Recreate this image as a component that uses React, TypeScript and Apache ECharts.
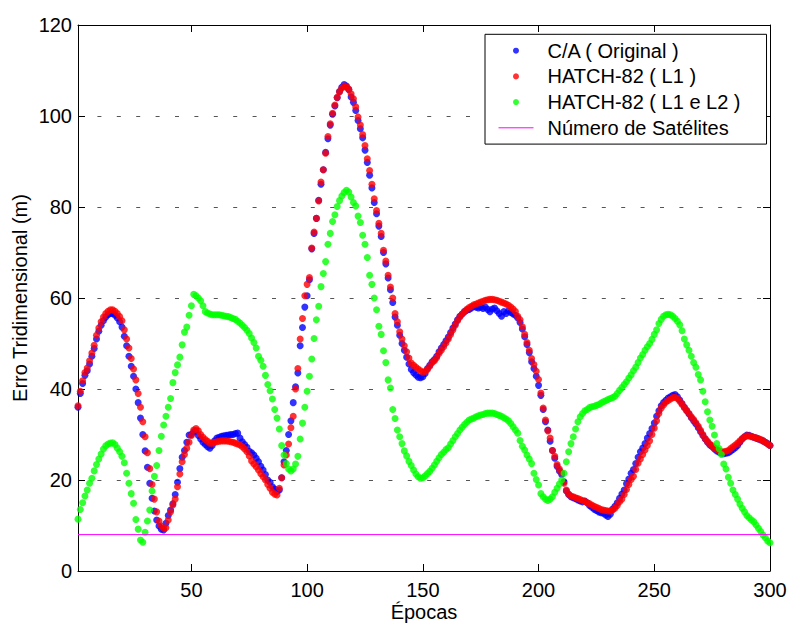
import React, { useEffect, useRef } from "react";
import * as echarts from "echarts";

const FONT = "'Liberation Sans', Arial, Helvetica, sans-serif";

const SERIES_NAMES = [
  "C/A ( Original )",
  "HATCH-82 ( L1 )",
  "HATCH-82 ( L1 e L2 )",
  "Número de Satélites",
];

const X_TICKS = [50, 100, 150, 200, 250, 300];
const Y_TICKS_INTERVAL = 20;

// C/A (Original) – one value per epoch (1..300)
const caOriginal = [
  36.0, 39.0, 41.2, 43.0, 44.0, 45.5, 47.2, 48.9, 51.0, 52.7,
  54.0, 55.0, 55.8, 56.3, 56.6, 56.6, 56.2, 55.6, 54.8, 53.6,
  51.6, 49.5, 47.2, 45.0, 42.8, 40.0, 37.0, 33.6, 30.0, 26.4,
  22.8, 19.3, 16.0, 13.2, 11.2, 9.9, 9.2, 9.0, 10.5, 12.2,
  13.4, 14.8, 16.8, 19.5, 22.5, 25.0, 26.5, 28.3, 29.9, 30.0,
  30.6, 30.8, 29.8, 29.0, 28.3, 27.8, 27.3, 27.0, 27.6, 28.6,
  29.2, 29.4, 29.6, 29.7, 29.8, 29.9, 30.0, 30.0, 30.2, 30.3,
  29.2, 28.4, 27.8, 27.2, 26.3, 26.0, 25.5, 24.8, 24.0, 23.0,
  22.2, 21.2, 20.0, 19.5, 18.5, 18.0, 17.5, 17.8, 20.5, 24.0,
  26.5, 30.0, 33.0, 37.0, 40.5, 43.5, 49.5, 53.5, 58.0, 60.5,
  64.0, 70.8, 74.2, 77.5, 81.5, 85.0, 88.2, 92.0, 95.0, 98.0,
  100.4, 102.2, 104.0, 105.4, 106.3, 106.9, 106.6, 105.8, 104.2, 103.0,
  101.2, 99.0, 97.2, 95.2, 92.5, 89.8, 87.0, 84.2, 81.0, 78.5,
  75.8, 73.5, 70.0, 67.5, 64.4, 61.8, 59.0, 55.8, 54.0, 51.8,
  50.0, 48.5, 47.0, 45.5, 44.3, 43.6, 43.1, 42.6, 42.5, 42.7,
  43.4, 44.5, 45.2, 46.0, 46.5, 47.2, 48.2, 49.0, 49.8, 50.6,
  51.4, 52.4, 53.4, 54.3, 55.2, 56.0, 56.5, 57.0, 57.3, 57.5,
  57.8, 58.2, 58.0, 57.8, 58.0, 57.7, 58.0, 57.5, 57.0, 57.6,
  57.8, 57.2, 56.6, 56.0, 57.0, 56.6, 57.2, 56.8, 56.5, 56.2,
  55.6, 54.6, 53.2, 51.5, 49.8, 48.0, 46.0, 44.5, 42.8, 40.8,
  38.6, 35.5, 32.8, 31.0, 28.5, 26.5, 24.8, 23.0, 22.0, 21.2,
  19.6, 17.6, 16.8, 16.3, 16.1, 15.9, 15.6, 15.4, 15.2, 15.4,
  15.0, 14.4, 14.0, 13.6, 13.3, 13.0, 12.8, 12.7, 12.3, 12.0,
  12.5, 13.6, 14.2, 15.0, 16.0, 16.9, 17.8, 19.2, 20.2, 21.5,
  22.3, 23.6, 25.0, 26.2, 27.0, 28.0, 29.2, 30.2, 31.3, 32.5,
  34.0, 35.2, 36.3, 37.0, 37.5, 38.0, 38.3, 38.6, 38.8, 38.3,
  37.6, 36.8, 36.0, 35.2, 34.5, 33.7, 33.0, 32.3, 31.5, 30.6,
  29.8, 29.0, 28.3, 27.7, 27.3, 26.8, 26.4, 26.1, 25.9, 25.8,
  25.9, 26.0, 26.3, 26.7, 27.1, 27.6, 28.3, 29.0, 29.5, 29.9,
  29.8, 29.6, 29.4, 29.2, 29.0, 28.8, 28.6, 28.3, 28.0, 27.6,
];

// HATCH-82 (L1)
const hatchL1 = [
  36.3, 39.5, 41.8, 43.6, 44.6, 46.2, 47.9, 49.6, 51.8, 53.4,
  54.8, 55.8, 56.6, 57.1, 57.4, 57.4, 57.1, 56.6, 55.9, 55.0,
  53.0, 51.0, 49.0, 46.7, 44.4, 42.0, 39.0, 36.0, 32.8, 29.5,
  26.0, 22.5, 19.0, 15.8, 13.0, 11.0, 9.9, 9.4, 9.5, 11.2,
  13.0, 14.5, 15.8, 18.5, 21.3, 24.0, 25.6, 27.0, 28.3, 29.8,
  31.0, 31.3, 30.8, 30.0, 29.4, 28.9, 28.5, 28.1, 28.1, 28.3,
  28.4, 28.5, 28.6, 28.6, 28.6, 28.5, 28.4, 28.3, 28.1, 27.9,
  27.7, 27.3, 26.8, 26.2, 25.3, 24.2, 23.5, 22.9, 22.2, 21.4,
  20.7, 20.0, 19.0, 18.2, 17.3, 16.9, 16.7, 18.2, 20.5, 23.3,
  25.5, 27.9, 31.5, 34.0, 40.0, 44.5, 51.0, 55.5, 60.5, 63.0,
  64.5, 71.0, 74.5, 77.5, 81.3, 85.5, 88.2, 91.8, 95.5, 98.3,
  100.6, 102.4, 104.1, 105.3, 106.1, 106.6, 106.4, 105.9, 104.9, 103.8,
  102.0, 99.8, 98.0, 95.9, 93.5, 90.6, 88.0, 85.0, 81.8, 79.2,
  76.4, 74.2, 70.5, 68.1, 65.0, 62.4, 60.0, 56.6, 54.8, 52.6,
  51.0, 49.5, 48.2, 46.8, 45.7, 45.2, 44.8, 44.4, 44.0, 43.7,
  43.9, 44.3, 45.0, 45.8, 46.2, 46.9, 47.8, 48.5, 49.3, 50.1,
  51.0, 52.0, 53.0, 54.0, 55.0, 55.8, 56.5, 57.0, 57.5, 57.9,
  58.2, 58.5, 58.7, 58.9, 59.1, 59.3, 59.5, 59.6, 59.7, 59.7,
  59.6, 59.5, 59.3, 59.1, 58.9, 58.7, 58.4, 58.0, 57.6, 57.0,
  56.0, 55.2, 53.7, 52.0, 50.2, 48.5, 46.7, 45.4, 43.9, 42.1,
  39.1, 35.8, 33.2, 30.8, 29.2, 26.5, 25.2, 23.4, 22.4, 21.6,
  19.3, 17.8, 16.9, 16.5, 16.3, 16.1, 15.9, 15.7, 15.5, 15.3,
  15.0, 14.8, 14.5, 14.2, 14.0, 13.8, 13.5, 13.4, 13.3, 13.2,
  13.2, 13.4, 13.8, 14.4, 15.2, 15.8, 16.8, 17.9, 19.0, 20.1,
  20.8, 22.3, 23.7, 24.6, 25.6, 26.6, 27.6, 28.6, 30.0, 31.4,
  33.0, 34.6, 35.8, 36.5, 37.1, 37.5, 37.8, 38.1, 38.2, 37.9,
  37.3, 36.6, 35.9, 35.3, 34.6, 33.9, 33.3, 32.6, 31.8, 30.9,
  30.0, 29.1, 28.5, 27.9, 27.5, 27.0, 26.7, 26.4, 26.2, 26.2,
  26.3, 26.5, 26.9, 27.3, 27.7, 28.1, 28.6, 29.1, 29.5, 29.7,
  29.7, 29.5, 29.4, 29.3, 29.1, 28.9, 28.6, 28.3, 27.9, 27.6,
];

// HATCH-82 (L1 e L2)
const hatchL1L2 = [
  11.4, 13.5, 15.0, 16.5, 17.8, 19.3, 20.4, 22.0, 23.4, 24.6,
  25.7, 26.8, 27.5, 27.9, 28.1, 28.2, 27.8, 27.0, 26.2, 25.2,
  23.8, 21.5, 19.3, 17.0, 14.9, 11.3, 9.2, 6.8, 6.3, 8.5,
  11.0, 13.4, 17.6, 20.8, 23.2, 26.5, 29.6, 32.1, 34.0, 36.0,
  37.9, 41.4, 43.6, 45.3, 47.0, 49.7, 52.5, 53.6, 56.2, 58.3,
  60.8, 60.5, 60.0, 59.4, 58.3, 57.0, 56.7, 56.5, 56.3, 56.3,
  56.3, 56.3, 56.2, 56.1, 56.0, 55.9, 55.7, 55.5, 55.3, 54.9,
  54.5, 54.0, 53.5, 52.9, 52.2, 51.2, 50.2, 49.0, 47.2, 46.3,
  45.0, 43.0, 41.0, 39.6, 37.8, 35.5, 33.6, 31.2, 27.6, 25.5,
  23.6, 22.4, 22.0, 22.4, 23.5, 25.2, 29.0, 32.5, 36.0, 39.5,
  42.8, 46.6, 51.1, 55.2, 58.2, 62.5, 65.4, 68.0, 71.8, 74.2,
  76.8, 78.3, 80.1, 81.4, 82.4, 83.2, 83.7, 83.3, 82.2, 81.0,
  80.2, 78.0, 76.6, 73.8, 71.8, 68.9, 65.0, 63.0, 60.0, 57.4,
  53.8, 52.0, 48.4, 45.8, 42.0, 40.2, 35.5, 33.5, 31.0, 29.5,
  28.0, 26.4, 25.3, 24.1, 23.2, 22.2, 21.3, 20.7, 20.4, 20.5,
  20.9, 21.4, 21.9, 22.6, 23.3, 24.1, 24.9, 25.6, 26.1, 26.7,
  27.1, 27.9, 28.7, 29.5, 30.2, 31.0, 31.6, 32.2, 32.7, 33.2,
  33.4, 33.6, 33.9, 34.1, 34.3, 34.4, 34.6, 34.7, 34.7, 34.7,
  34.6, 34.4, 34.2, 34.0, 33.7, 33.4, 33.0, 32.4, 31.7, 31.0,
  30.3, 28.7, 27.4, 26.6, 25.5, 24.6, 23.6, 21.5, 20.1, 18.9,
  17.0, 16.3, 15.8, 15.5, 15.8, 16.3, 17.3, 18.2, 19.1, 20.0,
  21.5, 24.0, 26.2, 28.0, 29.5, 31.2, 32.8, 33.9, 34.6, 35.2,
  35.5, 35.9, 36.1, 36.2, 36.4, 36.6, 36.9, 37.2, 37.4, 37.7,
  37.9, 38.1, 38.4, 39.0, 39.7, 40.3, 41.0, 41.6, 42.4, 43.1,
  44.0, 44.8, 45.8, 46.8, 47.6, 48.5, 49.3, 50.0, 50.9, 52.0,
  53.0, 54.4, 55.3, 56.0, 56.3, 56.4, 56.3, 56.0, 55.5, 54.9,
  54.1, 52.8, 51.0, 49.7, 48.5, 47.2, 45.8, 44.8, 43.2, 42.0,
  39.5, 37.2, 35.0, 33.2, 31.8, 29.9, 28.0, 26.9, 25.6, 23.5,
  22.4, 20.6, 19.3, 17.8, 16.8, 15.8, 14.7, 13.8, 13.0, 12.2,
  11.7, 11.2, 10.8, 10.1, 9.4, 8.7, 7.9, 7.3, 6.6, 6.2,
];

// Número de Satélites (constant over the whole run)
const satEpochs = [1, 300];
const satValues = [8, 8];

const toPairs = (vals: number[]) => vals.map((v, i) => [i + 1, v]);

export default function App() {
  const ref = useRef<HTMLDivElement>(null);

  useEffect(() => {
    if (!ref.current) return;
    const chart = echarts.init(ref.current, undefined, { renderer: "svg" });

    const axisLineStyle = { color: "#000", width: 1 };

    const option: any = {
      animation: false,
      backgroundColor: "#fff",
      textStyle: { fontFamily: FONT, fontSize: 20, color: "#000" },
      grid: {
        left: 78,
        top: 25,
        width: 692,
        height: 546,
        containLabel: false,
        outerBoundsMode: "none",
      },
      legend: {
        orient: "vertical",
        left: 485,
        top: 34.3,
        padding: [6.4, 26, 6.3, 13],
        itemGap: 5.7,
        itemWidth: 35,
        itemHeight: 6,
        selectedMode: false,
        borderColor: "#000",
        borderWidth: 1,
        backgroundColor: "#fff",
        textStyle: {
          fontFamily: FONT,
          fontSize: 20,
          lineHeight: 20,
          color: "#000",
          padding: [0, 0, 0, 9],
        },
        data: [
          { name: SERIES_NAMES[0], icon: "circle" },
          { name: SERIES_NAMES[1], icon: "circle" },
          { name: SERIES_NAMES[2], icon: "circle" },
          {
            name: SERIES_NAMES[3],
            itemStyle: { color: "rgba(0,0,0,0)", borderWidth: 0, opacity: 0 },
            lineStyle: { color: "#ff00ff", width: 1, opacity: 1 },
          },
        ],
      },
      xAxis: [
        {
          type: "value",
          position: "bottom",
          min: 1,
          max: 300,
          name: "Épocas",
          nameLocation: "middle",
          nameGap: 31,
          nameMoveOverlap: false,
          nameTextStyle: { fontFamily: FONT, fontSize: 20, color: "#000" },
          axisLine: { show: true, onZero: false, lineStyle: axisLineStyle },
          axisTick: {
            show: true,
            inside: true,
            length: 7,
            customValues: X_TICKS,
            lineStyle: axisLineStyle,
          },
          axisLabel: {
            show: true,
            customValues: X_TICKS,
            margin: 9,
            fontFamily: FONT,
            fontSize: 20,
            color: "#000",
          },
          splitLine: { show: false },
        },
        {
          type: "value",
          position: "top",
          min: 1,
          max: 300,
          axisLine: { show: true, onZero: false, lineStyle: axisLineStyle },
          axisTick: {
            show: true,
            inside: true,
            length: 7,
            customValues: X_TICKS,
            lineStyle: axisLineStyle,
          },
          axisLabel: { show: false },
          splitLine: { show: false },
        },
      ],
      yAxis: [
        {
          type: "value",
          position: "left",
          min: 0,
          max: 120,
          interval: Y_TICKS_INTERVAL,
          name: "Erro Tridimensional (m)",
          nameLocation: "middle",
          nameGap: 48,
          nameMoveOverlap: false,
          nameTextStyle: { fontFamily: FONT, fontSize: 20, color: "#000" },
          axisLine: { show: true, onZero: false, lineStyle: axisLineStyle },
          axisTick: { show: true, inside: true, length: 7, lineStyle: axisLineStyle },
          axisLabel: {
            margin: 6,
            fontFamily: FONT,
            fontSize: 20,
            color: "#000",
          },
          splitLine: {
            show: true,
            lineStyle: { color: "#555", width: 1, type: [4, 15.4] },
          },
        },
        {
          type: "value",
          position: "right",
          min: 0,
          max: 120,
          interval: Y_TICKS_INTERVAL,
          axisLine: { show: true, onZero: false, lineStyle: axisLineStyle },
          axisTick: { show: true, inside: true, length: 7, lineStyle: axisLineStyle },
          axisLabel: { show: false },
          splitLine: { show: false },
        },
      ],
      series: [
        {
          name: SERIES_NAMES[0],
          type: "scatter",
          xAxisIndex: 0,
          yAxisIndex: 0,
          symbol: "circle",
          symbolSize: 7,
          itemStyle: { color: "#0000ff" },
          data: toPairs(caOriginal),
        },
        {
          name: SERIES_NAMES[1],
          type: "scatter",
          xAxisIndex: 0,
          yAxisIndex: 0,
          symbol: "circle",
          symbolSize: 7,
          itemStyle: { color: "#ff0000" },
          data: toPairs(hatchL1),
        },
        {
          name: SERIES_NAMES[2],
          type: "scatter",
          xAxisIndex: 0,
          yAxisIndex: 0,
          symbol: "circle",
          symbolSize: 7,
          itemStyle: { color: "#00ff00" },
          data: toPairs(hatchL1L2),
        },
        {
          name: SERIES_NAMES[3],
          type: "line",
          xAxisIndex: 0,
          yAxisIndex: 0,
          symbol: "none",
          showSymbol: false,
          lineStyle: { color: "#ff00ff", width: 1 },
          itemStyle: { color: "#ff00ff" },
          data: satEpochs.map((e, i) => [e, satValues[i]]),
        },
      ],
    };

    chart.setOption(option);
    return () => chart.dispose();
  }, []);

  return (
    <div
      ref={ref}
      style={{ position: "absolute", left: 0, top: 0, width: 788, height: 627 }}
    />
  );
}
